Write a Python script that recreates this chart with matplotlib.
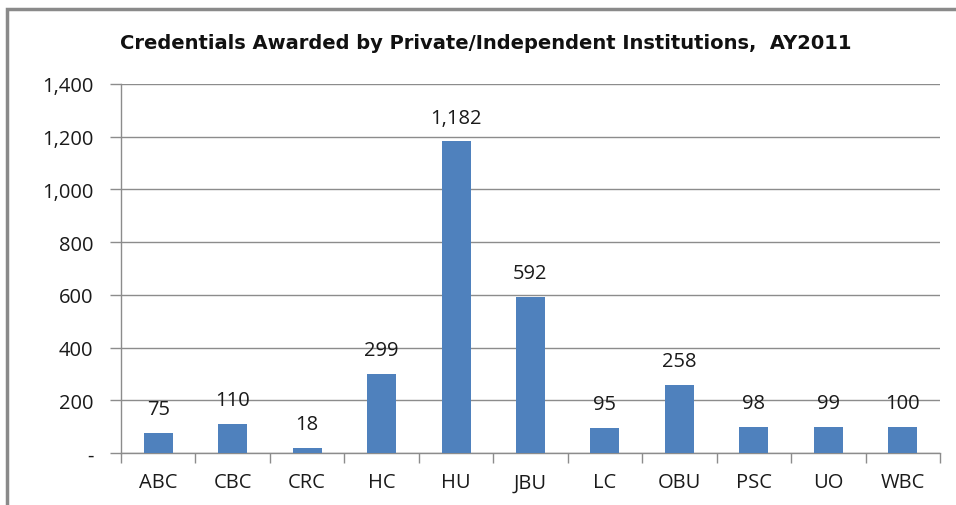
import matplotlib
matplotlib.use("Agg")
import matplotlib.pyplot as plt
from matplotlib.ticker import FuncFormatter, MultipleLocator
from matplotlib.patches import Rectangle

categories = ["ABC", "CBC", "CRC", "HC", "HU", "JBU", "LC", "OBU", "PSC", "UO", "WBC"]
values = [75, 110, 18, 299, 1182, 592, 95, 258, 98, 99, 100]
title = "Credentials Awarded by Private/Independent Institutions,  AY2011"

plt.rcParams['font.family'] = ['Open Sans', 'DejaVu Sans']

fig = plt.figure(figsize=(9.56, 5.06), dpi=100)
ax = fig.add_axes([121/956, 1-454/506, (940-121)/956, (454-85)/506])

x = range(len(categories))
bars = ax.bar(x, values, width=0.39, color="#4F81BD", zorder=3)
for xi, v in zip(x, values):
    ax.annotate(f"{v:,}", (xi, v), xytext=(0, 10), textcoords="offset points",
                ha="center", va="bottom", fontsize=14.5, color="#1a1a1a", zorder=4)

ax.set_xlim(-0.5, len(categories) - 0.5)
ax.set_ylim(0, 1400)
ax.yaxis.set_major_locator(MultipleLocator(200))
ax.yaxis.set_major_formatter(FuncFormatter(lambda v, p: "-" if v == 0 else f"{int(v):,}"))
ax.grid(axis="y", color="#8c8c8c", linewidth=1.0, zorder=0)
ax.set_axisbelow(True)

ax.set_xticks(list(x))
ax.set_xticklabels(categories)
ax.set_xticks([i + 0.5 for i in range(-1, len(categories))], minor=True)
ax.tick_params(axis="x", which="major", length=0, pad=14, labelsize=14.5, labelcolor="#1a1a1a")
ax.tick_params(axis="x", which="minor", length=7, color="#8c8c8c", width=1)
ax.tick_params(axis="y", length=8, color="#8c8c8c", width=1, pad=12, labelsize=14.5, labelcolor="#1a1a1a")

for s in ["top", "right"]:
    ax.spines[s].set_visible(False)
for s in ["left", "bottom"]:
    ax.spines[s].set_color("#8c8c8c")
    ax.spines[s].set_linewidth(1.0)

fig.text(486/956, 1-44/506, title, ha="center", va="center", fontsize=14,
         fontweight="bold", color="#111111", family="DejaVu Sans")

# outer chart frame (partially visible)
fig.add_artist(Rectangle((7/956, -0.1), 1.2, 1 - 10/506 + 0.1, transform=fig.transFigure,
                         fill=False, edgecolor="#8a8a8a", linewidth=2.5))

fig.savefig("out.png", dpi=100)
